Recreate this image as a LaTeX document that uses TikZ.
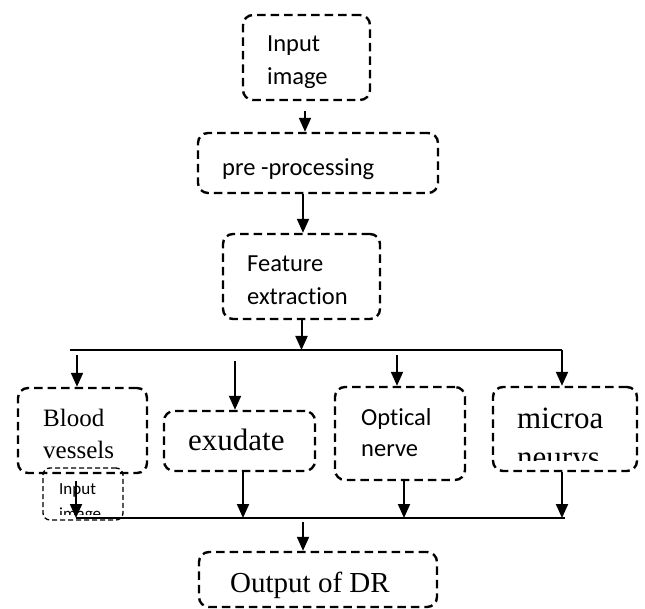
\documentclass[tikz,border=0pt]{standalone}
\usepackage{fontspec}
\newfontfamily\calib[Ligatures=NoCommon]{Carlito}
\newfontfamily\serf{Liberation Serif}
\usetikzlibrary{arrows.meta}
\tikzstyle{box} = [
    rectangle,
    rounded corners=10pt,
    draw=black,
    line width=2.4pt,
    dash pattern=on 8.5pt off 5pt,
    inner sep=0pt
]
\tikzstyle{smallbox} = [
    rectangle,
    rounded corners=7pt,
    draw=black,
    line width=1.3pt,
    dash pattern=on 5pt off 3pt,
    inner sep=0pt
]
\tikzstyle{sanstext} = [anchor=base west, inner sep=0pt, font=\calib\fontsize{24.5}{28}\selectfont]
\tikzstyle{smalltext} = [anchor=base west, inner sep=0pt, font=\calib\fontsize{17}{20}\selectfont]
\tikzstyle{sertext} = [anchor=base west, inner sep=0pt, font=\serf\fontsize{31}{36}\selectfont]
\tikzstyle{bustext} = [anchor=base west, inner sep=0pt, font=\serf\fontsize{25}{30}\selectfont]
\tikzstyle{arrow} = [line width=2pt, -{Triangle[length=14pt,width=12pt]}]
\tikzstyle{busline} = [line width=2pt]

\begin{document}
\begin{tikzpicture}[x=1pt, y=-1pt]
\useasboundingbox (0,0) rectangle (645,609);

% Boxes
\node (inimg) [box, minimum width=127pt, minimum height=85pt] at (306.5,57.5) {};
\node (prep) [box, minimum width=240pt, minimum height=60pt] at (318,163) {};
\node (feat) [box, minimum width=157pt, minimum height=85pt] at (301.5,276.5) {};
\node (blood) [box, minimum width=129pt, minimum height=85pt] at (82.5,430.5) {};
\node (exud) [box, minimum width=151pt, minimum height=60pt] at (239.5,441) {};
\node (optic) [box, minimum width=130pt, minimum height=93pt] at (400,433.5) {};
\node (micro) [box, minimum width=144pt, minimum height=84pt] at (565,429) {};
\node (smallin) [smallbox, minimum width=80pt, minimum height=52pt] at (83,494) {};
\node (output) [box, minimum width=238pt, minimum height=55pt] at (318,579.5) {};

% Texts
\node (inimgA) [sanstext] at (267,52) {Input};
\begin{scope}
\clip (inimg.north west) rectangle ([yshift=14pt]inimg.south east);
\node (inimgB) [sanstext] at (267,85) {image};
\end{scope}
\node (preptxt) [sanstext] at (222,176) {pre -processing};
\node (featA) [sanstext] at (247,272) {Feature};
\node (featB) [sanstext] at (247,305) {extraction};
\node (bloodA) [bustext] at (43,426) {Blood};
\node (bloodB) [bustext] at (43,458) {vessels};
\node (exudtxt) [sertext] at (188,450) {exudate};
\node (opticA) [sanstext] at (361,425) {Optical};
\node (opticB) [sanstext] at (361,456) {nerve};
\node (microA) [sertext] at (517,428) {microa};
\begin{scope}
\clip (micro.north west) rectangle ([yshift=12pt]micro.south east);
\node (microB) [sertext] at (517,467) {neurys};
\end{scope}
\node (smallA) [smalltext] at (59,494) {Input};
\begin{scope}
\clip (smallin.north west) rectangle ([yshift=6pt]smallin.south east);
\node (smallB) [smalltext] at (59,519) {image};
\end{scope}
\node (outtxt) [sertext, font=\serf\fontsize{29}{34}\selectfont] at (230,592) {Output of DR};

% Bus coordinates
\coordinate (busL) at (70,350);
\coordinate (busR) at (562,350);
\coordinate (botL) at (76,518);
\coordinate (botR) at (565,518);

% Arrows
\draw [arrow] ([xshift=-1.5pt,yshift=-10pt]inimg.south) -- ([xshift=-1.5pt]inimg.south |- prep.north);
\draw [arrow] ([xshift=1.5pt]feat.north |- prep.south) -- ([xshift=1.5pt]feat.north);
\draw [arrow] (feat.south) -- (feat.south |- busL);
\draw [busline] (busL) -- (busR);
\draw [arrow] (busR) -- (busR |- micro.north);
\draw [arrow, shorten <=5pt] ([xshift=-5.5pt]blood.north |- busL) -- ([xshift=-5.5pt]blood.north);
\draw [arrow, shorten <=11pt] ([xshift=-4.5pt]exud.north |- busL) -- ([xshift=-4.5pt]exud.north);
\draw [arrow, shorten <=5pt] ([xshift=-3pt]optic.north |- busL) -- ([xshift=-3pt]optic.north);
\draw [arrow, shorten <=7pt] ([xshift=-6.5pt]blood.south) -- ([xshift=-6.5pt]blood.south |- botL);
\draw [arrow] ([xshift=3.5pt]exud.south) -- ([xshift=3.5pt]exud.south |- botL);
\draw [arrow] ([xshift=4pt]optic.south) -- ([xshift=4pt]optic.south |- botL);
\draw [arrow] ([xshift=-3pt]micro.south) -- ([xshift=-3pt]micro.south |- botL);
\draw [busline] (botL) -- (botR);
\draw [arrow, shorten <=4pt] ([xshift=-15pt]output.north |- botL) -- ([xshift=-15pt]output.north);

\end{tikzpicture}
\end{document}
